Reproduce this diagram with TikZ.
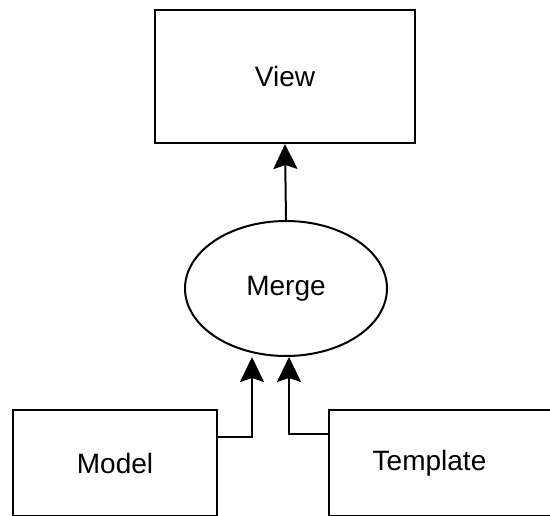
\documentclass[tikz,border=0pt]{standalone}
\usepackage{fontspec}
\setmainfont{Liberation Sans}
\usetikzlibrary{arrows.meta,shapes.geometric,positioning,calc}

\begin{document}
\begin{tikzpicture}[x=1pt,y=-1pt,%
          box/.style={draw,
              line width=2pt,
              rectangle,
              inner sep=0pt,
              font=\fontsize{28}{33}\selectfont},
          blob/.style={draw,
              line width=2pt,
              ellipse,
              inner sep=0pt,
              minimum width=202pt,
              minimum height=135pt,
              font=\fontsize{28}{33}\selectfont},
          arr/.style={line width=2pt,
              -{Stealth[length=25pt,width=24pt,inset=4pt]}},
        ]
        \useasboundingbox (0,0) rectangle (550,516);

        \node[box,minimum width=260pt,minimum height=133pt] (view) at (285,76.5) {View};
        \node[blob] (merge) at (286,288.5) {Merge};
        \node[box,minimum width=204pt,minimum height=106pt] (model) at (115,463) {Model};
        \node[box,minimum width=230pt,minimum height=106pt] (template) at (444,463) {Template\hspace*{29pt}};

        \draw[arr] (merge.north) -- (view.south);
        \draw[arr] ([yshift=26pt]model.east) -| ([xshift=-34pt]merge.south);
        \draw[arr] ([yshift=29pt]template.west) -| ([xshift=3pt]merge.south);
      \end{tikzpicture}
\end{document}
